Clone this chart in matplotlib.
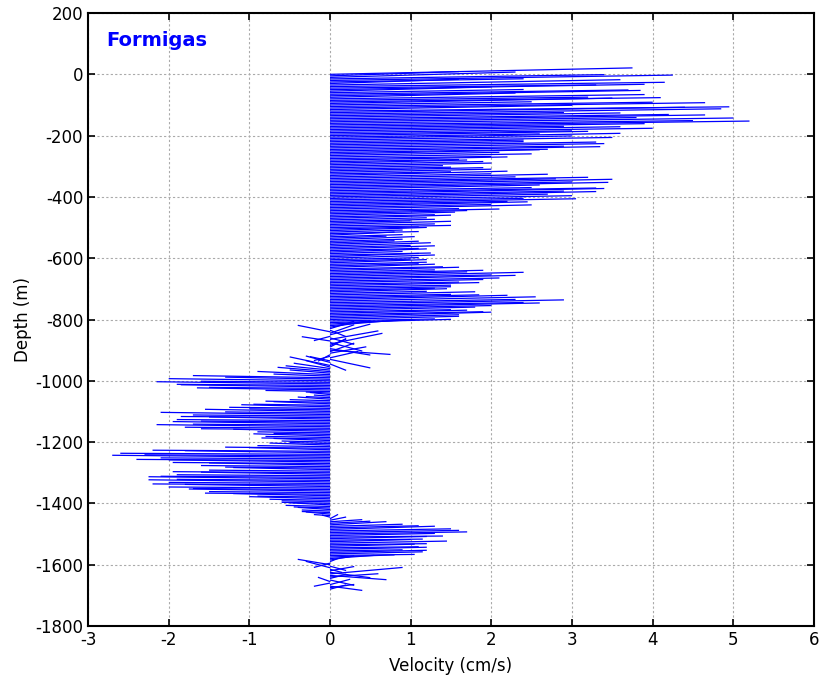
import numpy as np
import matplotlib

matplotlib.use('AGG')

import matplotlib.pyplot as plt
from matplotlib.collections import LineCollection

plt.rcParams['axes.unicode_minus'] = False

# depth bins (m), every 5 m from the surface down to -1680
depth = np.arange(0, -1685, -5)

# east velocity (cm/s), one value per bin, one row per 100 m
u = [
    3.75, 1.60, 2.30, 3.40, 4.25, 2.40, 1.60, 3.60, 4.15, 3.30, 3.90, 2.00, 2.40, 3.70, 3.85, 2.30, 3.90, 3.20, 4.10, 3.50,
    2.50, 4.00, 4.65, 3.00, 4.95, 4.40, 4.85, 2.90, 3.60, 4.20, 4.65, 3.80, 5.00, 4.50, 5.20, 3.90, 2.90, 3.60, 4.00, 3.00,
    3.20, 2.60, 3.60, 3.00, 3.50, 2.40, 2.40, 3.30, 3.40, 2.90, 3.35, 2.70, 2.60, 2.10, 2.50, 2.00, 2.20, 1.60, 1.70, 1.90,
    2.00, 1.40, 1.50, 1.90, 2.00, 1.50, 2.20, 2.00, 2.70, 2.30, 3.20, 2.80, 3.50, 3.00, 3.45, 2.60, 2.50, 3.30, 3.40, 2.90,
    3.30, 2.70, 3.00, 2.40, 3.05, 2.20, 2.45, 2.00, 2.50, 1.60, 2.10, 1.70, 1.55, 1.30, 1.50, 1.20, 1.30, 1.00, 1.50, 1.30,
    1.50, 1.10, 1.20, 0.90, 1.10, 0.80, 0.90, 0.70, 1.05, 0.90, 0.80, 1.10, 1.25, 1.00, 1.30, 1.10, 1.20, 0.90, 1.25, 1.10,
    1.30, 1.10, 1.00, 1.20, 1.20, 1.10, 1.30, 1.40, 1.60, 1.30, 1.90, 1.70, 2.40, 2.00, 2.30, 2.10, 1.90, 1.60, 1.85, 1.50,
    1.50, 1.30, 1.45, 1.20, 1.80, 1.50, 1.85, 2.20, 2.55, 2.30, 2.90, 2.40, 2.60, 2.00, 1.80, 1.50, 1.70, 1.90, 2.00, 1.60,
    1.60, 1.30, 1.50, 1.00, 0.80, 0.50, 0.30, 0.20, -0.40, 0.30, 0.50, -0.20, 0.30, 0.60, -0.35, 0.40, 0.65, 0.20, 0.20, 0.50,
    0.75, 0.30, 0.45, -0.15, -0.20, 0.35, 0.50, -0.25, -0.30, 0.20, -0.50, -0.30, -0.45, -0.55, -0.65, -0.50, -0.90, -0.70, -1.70, -1.30,
    -2.00, -1.60, -2.15, -1.90, -1.85, -1.50, -1.65, -0.80, -0.30, -0.25, -0.20, -0.30, -0.40, -0.50, -0.80, -0.70, -0.95, -1.10, -1.25, -1.00,
    -1.55, -1.30, -2.10, -1.70, -1.85, -1.50, -1.90, -1.60, -1.95, -1.70, -2.15, -1.80, -1.60, -1.20, -0.90, -0.70, -0.95, -0.80, -0.85, -0.70,
    -0.60, -0.50, -0.75, -0.90, -1.30, -1.00, -2.20, -1.80, -2.60, -2.30, -2.70, -2.10, -2.40, -2.00, -1.95, -1.50, -1.60, -1.30, -1.20, -1.50,
    -1.95, -1.60, -1.90, -2.10, -2.25, -1.90, -2.25, -2.00, -2.20, -1.80, -2.00, -1.70, -1.75, -1.50, -1.55, -1.20, -0.90, -1.00, -0.75, -0.60,
    -0.60, -0.50, -0.55, -0.45, -0.40, -0.35, -0.35, -0.30, -0.20, -0.10, 0.10, 0.20, 0.40, 0.50, 0.70, 0.90, 1.10, 1.30, 1.50, 1.60,
    1.70, 1.30, 1.40, 1.20, 1.15, 1.00, 1.45, 1.20, 1.05, 1.10, 1.20, 0.90, 1.20, 1.15, 1.05, 0.80, 0.55, 0.30, 0.10, -0.20,
    -0.40, 0.20, -0.30, 0.15, 0.30, 0.50, 0.90, 0.70, 0.60, 0.20, 0.30, -0.15, -0.20, 0.25, 0.40, 0.30, 0.20,
]

# north velocity (cm/s), drawn as the vertical part of each stick
v = [
    3.0, 2.0, 2.5, 2.0, 2.5, 1.5, 2.0, 2.5, 2.0, 1.5, 2.5, 2.0, 1.5, 2.0, 2.5, 2.0, 2.0, 1.5, 2.0, 2.5,
    1.5, 2.0, 2.5, 2.0, 2.0, 2.5, 2.5, 1.5, 2.0, 2.0, 2.5, 2.0, 2.5, 2.0, 2.5, 2.0, 1.5, 2.0, 2.0, 1.5,
    2.0, 1.5, 2.5, 2.0, 2.0, 1.5, 1.5, 2.0, 2.0, 1.5, 2.0, 1.5, 2.0, 1.5, 1.5, 1.0, 1.5, 1.0, 1.5, 1.5,
    1.5, 1.0, 1.0, 1.5, 1.5, 1.0, 2.0, 1.5, 2.0, 1.5, 2.0, 2.0, 2.5, 2.0, 2.5, 2.0, 1.5, 2.0, 2.5, 2.0,
    2.5, 2.0, 2.0, 1.5, 2.0, 1.5, 2.0, 1.5, 2.0, 1.0, 1.5, 1.5, 1.5, 1.0, 1.5, 1.0, 1.0, 1.0, 1.5, 1.0,
    1.0, 1.0, 1.5, 1.0, 1.0, 1.5, 1.0, 1.0, 1.5, 1.0, 1.0, 1.5, 1.5, 1.0, 1.5, 1.0, 1.5, 1.0, 1.0, 1.5,
    1.5, 1.0, 1.0, 1.5, 1.0, 1.0, 1.5, 1.0, 1.5, 1.0, 1.5, 1.5, 2.0, 1.5, 2.0, 1.5, 1.5, 1.0, 1.5, 1.0,
    1.0, 1.0, 1.5, 1.0, 1.5, 1.0, 1.5, 2.0, 2.0, 1.5, 2.0, 1.5, 2.0, 1.5, 1.5, 1.0, 1.5, 1.5, 2.0, 1.5,
    1.5, 1.0, 1.5, 2.0, 2.5, 3.0, 3.5, -3.0, 3.0, 4.0, 5.0, -2.0, -3.0, 4.0, 2.0, -4.0, 5.0, 3.0, 4.0, -3.0,
    -2.0, 4.0, 3.0, -3.0, -2.0, 3.0, -4.0, 2.0, 3.0, -3.0, 4.0, 3.0, 2.5, 2.0, 2.0, 1.5, 1.5, 1.0, 1.0, 1.0,
    1.0, 0.5, 1.0, 0.5, 1.0, 0.5, 1.0, 0.5, 0.5, 1.0, 0.5, 0.5, 1.0, 0.5, 0.5, 1.0, 0.5, 1.0, 0.5, 0.5,
    1.0, 0.5, 1.0, 0.5, 0.5, 1.0, 0.5, 0.5, 1.0, 0.5, 1.0, 0.5, 0.5, 1.0, 0.5, 0.5, 1.0, 0.5, 0.5, 1.0,
    0.5, 0.5, 1.0, 0.5, 0.5, 1.0, 0.5, 1.0, 0.5, 0.5, 1.0, 0.5, 0.5, 1.0, 0.5, 1.0, 0.5, 0.5, 1.0, 0.5,
    0.5, 1.0, 0.5, 0.5, 1.0, 0.5, 1.0, 0.5, 0.5, 1.0, 0.5, 0.5, 1.0, 0.5, 0.5, 1.0, 0.5, 1.0, 0.5, 0.5,
    0.5, 1.0, 0.5, 0.5, 1.0, 0.5, 0.5, 1.0, 0.5, 1.0, 2.0, 1.5, 1.0, 1.0, 1.5, 1.0, 1.0, 1.5, 1.0, 1.0,
    1.0, 1.0, 0.5, 1.0, 0.5, 1.0, 1.0, 0.5, 1.0, 0.5, 1.0, 0.5, 1.0, 1.0, 0.5, 1.0, 1.5, 2.0, 1.5, -2.0,
    2.5, -2.0, 3.0, -1.5, 2.0, -2.5, 3.0, -2.0, 1.5, 2.0, -2.5, 2.0, -1.5, 2.5, -2.0, 1.5, 2.0,
]

vscale = 7.0  # metres of depth per cm/s of north velocity

segs = [[(0.0, z), (ue, z + vn * vscale)] for z, ue, vn in zip(depth, u, v)]

fig = plt.figure(figsize=(8.21, 6.86), dpi=100)
ax = fig.add_axes([0.1072, 0.0875, 0.8843, 0.8935])

lc = LineCollection(segs, colors='#0000ff', linewidths=0.9)
ax.add_collection(lc)

ax.set_xlim(-3, 6)
ax.set_ylim(-1800, 200)
ax.set_xticks(np.arange(-3, 7, 1))
ax.set_yticks(np.arange(-1800, 201, 200))
ax.grid(True, color='#aaaaaa', linestyle=(0, (2, 2)), linewidth=0.8)
ax.set_axisbelow(True)

ax.tick_params(direction='in', length=5, width=1.2, labelsize=12,
               top=True, right=True)
for sp in ax.spines.values():
    sp.set_linewidth(1.5)

ax.set_xlabel('Velocity (cm/s)', fontsize=12, labelpad=6)
ax.set_ylabel('Depth (m)', fontsize=12, labelpad=2)

ax.text(0.025, 0.955, 'Formigas', transform=ax.transAxes, color='#0000ff',
        fontsize=14, fontweight='bold', va='center')

plt.savefig('out.png', dpi=100)
